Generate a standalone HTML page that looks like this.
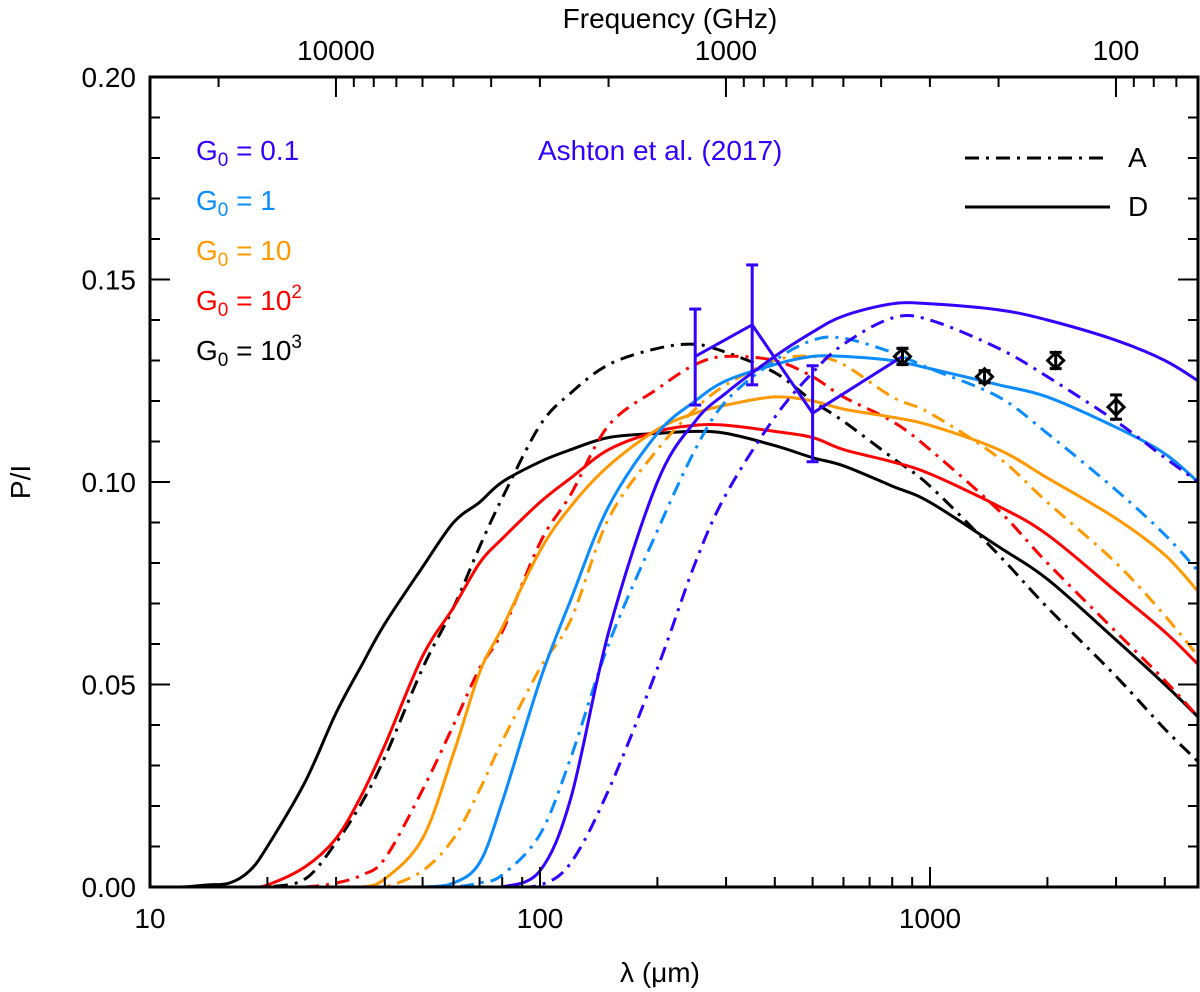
<!DOCTYPE html>
<html><head><meta charset="utf-8"><style>
body{margin:0;background:#fff;}
svg{display:block;font-family:"Liberation Sans",sans-serif;}
</style></head><body>
<svg id="chart" width="1200" height="992"></svg>
<script>
const lambdaGrid=[10,12,14,16,18,20,25,30,35,40,50,60,70,80,100,120,150,200,250,300,400,500,600,800,1000,1500,2000,3000,4000,4866];
const blackD=[0,0,0.0005,0.001,0.004,0.010,0.026,0.043,0.055,0.065,0.079,0.090,0.095,0.100,0.105,0.108,0.111,0.112,0.1125,0.112,0.109,0.106,0.104,0.099,0.095,0.084,0.076,0.061,0.050,0.042];
const blackA=[0,0,0,0,0,0,0.002,0.011,0.021,0.032,0.054,0.069,0.084,0.096,0.114,0.122,0.129,0.133,0.134,0.132,0.127,0.120,0.115,0.106,0.099,0.082,0.069,0.052,0.039,0.031];
const redD=[0,0,0,0,0,0.0005,0.005,0.012,0.023,0.035,0.057,0.069,0.080,0.086,0.095,0.101,0.108,0.1125,0.114,0.114,0.1125,0.111,0.108,0.105,0.102,0.094,0.087,0.073,0.063,0.055];
const redA=[0,0,0,0,0,0,0,0.001,0.003,0.007,0.024,0.040,0.054,0.063,0.085,0.097,0.114,0.123,0.129,0.131,0.130,0.126,0.121,0.115,0.108,0.093,0.080,0.063,0.051,0.042];
const orangeD=[0,0,0,0,0,0,0,0,0,0.002,0.012,0.033,0.053,0.064,0.083,0.094,0.104,0.113,0.117,0.119,0.121,0.120,0.118,0.116,0.114,0.108,0.101,0.091,0.082,0.073];
const orangeA=[0,0,0,0,0,0,0,0,0,0,0.004,0.012,0.024,0.036,0.054,0.066,0.091,0.108,0.118,0.124,0.130,0.131,0.129,0.121,0.117,0.106,0.095,0.080,0.067,0.057];
const lblueD=[0,0,0,0,0,0,0,0,0,0,0,0.001,0.006,0.021,0.051,0.071,0.094,0.112,0.120,0.125,0.129,0.131,0.131,0.130,0.128,0.124,0.121,0.1135,0.107,0.100];
const lblueA=[0,0,0,0,0,0,0,0,0,0,0,0,0.001,0.003,0.013,0.032,0.060,0.088,0.108,0.120,0.130,0.135,0.1355,0.132,0.128,0.121,0.112,0.098,0.087,0.078];
const blueD=[0,0,0,0,0,0,0,0,0,0,0,0,0,0,0.004,0.022,0.063,0.100,0.115,0.122,0.131,0.137,0.141,0.144,0.144,0.1425,0.140,0.135,0.130,0.125];
const blueA=[0,0,0,0,0,0,0,0,0,0,0,0,0,0,0.0005,0.006,0.024,0.054,0.080,0.097,0.116,0.127,0.134,0.1405,0.140,0.133,0.126,0.115,0.106,0.100];
const ashtonLambda=[250,350,500,850];
const ashtonValue=[0.131,0.1388,0.117,0.131];
const ashtonLow=[0.119,0.124,0.105,0.129];
const ashtonHigh=[0.1427,0.1536,0.1287,0.133];
const planckLambda=[850,1380,2100,3000];
const planckValue=[0.131,0.126,0.130,0.1185];
const planckErr=[0.002,0.0015,0.002,0.003];
const yTicks=[0,0.05,0.10,0.15,0.20];
const yTickLabels=["0.00","0.05","0.10","0.15","0.20"];
const xTicks=[10,100,1000];
const freqTicks=[10000,1000,100];

const L=150,R=1198,T=77,B=887;
const x=l=>L+390*Math.log10(l/10);
const y=v=>B-(v/0.2)*(B-T);
const xf=f=>x(299792.458/f);
const svg=document.getElementById('chart');
const NS='http://www.w3.org/2000/svg';
function mk(t,a,p){const e=document.createElementNS(NS,t);for(const k in a)e.setAttribute(k,a[k]);(p||svg).appendChild(e);return e;}
function smooth(pts){
  let d='M'+pts[0][0].toFixed(1)+' '+pts[0][1].toFixed(1);
  for(let i=0;i<pts.length-1;i++){
    const p0=pts[i-1]||pts[i],p1=pts[i],p2=pts[i+1],p3=pts[i+2]||p2;
    const c1=[p1[0]+(p2[0]-p0[0])/6,p1[1]+(p2[1]-p0[1])/6];
    const c2=[p2[0]-(p3[0]-p1[0])/6,p2[1]-(p3[1]-p1[1])/6];
    d+=`C${c1[0].toFixed(1)} ${c1[1].toFixed(1)} ${c2[0].toFixed(1)} ${c2[1].toFixed(1)} ${p2[0].toFixed(1)} ${p2[1].toFixed(1)}`;
  }
  return d;
}

const clip=mk('clipPath',{id:'pc'});mk('rect',{x:L,y:T,width:R-L,height:B-T},clip);
const series=[[blackD,'#000','none'],[blackA,'#000','14 7 3 7'],[redD,'#ff0000','none'],[redA,'#ff0000','14 7 3 7'],[orangeD,'#ff9900','none'],[orangeA,'#ff9900','14 7 3 7'],[lblueD,'#0a8cff','none'],[lblueA,'#0a8cff','14 7 3 7'],[blueD,'#3300ff','none'],[blueA,'#3300ff','14 7 3 7']];
const names=['g1000-d','g1000-a','g100-d','g100-a','g10-d','g10-a','g1-d','g1-a','g01-d','g01-a'];
series.forEach((s,i)=>{
  const pts=s[0].map((v,j)=>[x(lambdaGrid[j]),y(v)]);
  const p=mk('path',{d:smooth(pts),fill:'none',stroke:s[1],'stroke-width':3,'stroke-dasharray':s[2],'clip-path':'url(#pc)'});
  
  
});
const ad=ashtonLambda.map((l,i)=>(i?'L':'M')+x(l)+' '+y(ashtonValue[i])).join(' ');
const al=mk('path',{d:ad,fill:'none',stroke:'#3300ff','stroke-width':3});


ashtonLambda.forEach((l,i)=>{
  const g=mk('g',{stroke:'#3300ff','stroke-width':3});
  
  
  const cx=x(l);
  mk('line',{x1:cx,x2:cx,y1:y(ashtonLow[i]),y2:y(ashtonHigh[i])},g);
  mk('line',{x1:cx-6,x2:cx+6,y1:y(ashtonLow[i]),y2:y(ashtonLow[i])},g);
  mk('line',{x1:cx-6,x2:cx+6,y1:y(ashtonHigh[i]),y2:y(ashtonHigh[i])},g);
});
planckLambda.forEach((l,i)=>{
  const g=mk('g',{stroke:'#000','stroke-width':3,fill:'none'});
  
  
  const cx=x(l),cy=y(planckValue[i]),lo=y(planckValue[i]-planckErr[i]),hi=y(planckValue[i]+planckErr[i]);
  mk('path',{d:`M${cx-8} ${cy}L${cx} ${cy-8}L${cx+8} ${cy}L${cx} ${cy+8}Z`},g);
  mk('line',{x1:cx,x2:cx,y1:lo,y2:hi},g);
  mk('line',{x1:cx-6,x2:cx+6,y1:lo,y2:lo},g);
  mk('line',{x1:cx-6,x2:cx+6,y1:hi,y2:hi},g);
});
const fr=mk('rect',{x:L,y:T,width:R-L,height:B-T,fill:'none',stroke:'#000','stroke-width':3});


const ax=mk('g',{stroke:'#000','stroke-width':2});
for(let k=0;k<=20;k++){const v=k*0.01,yy=y(v),len=k%5?10:20;
  mk('line',{x1:L,x2:L+len,y1:yy,y2:yy},ax);mk('line',{x1:R,x2:R-len,y1:yy,y2:yy},ax);}
yTicks.forEach((v,i)=>{const t=mk('text',{x:L-14,y:y(v)+10,'text-anchor':'end','font-size':28});t.textContent=yTickLabels[i];
  
  });
for(let d=10;d<=1000;d*=10)for(let m=1;m<10;m++){const l=d*m;if(l>4866)continue;const xx=x(l),len=m==1?20:10;mk('line',{x1:xx,x2:xx,y1:B,y2:B-len},ax);}
xTicks.forEach(l=>{const t=mk('text',{x:x(l),y:B+41,'text-anchor':'middle','font-size':28});t.textContent=String(l);
  
  });
for(let d=10000;d>=10;d/=10)for(let m=1;m<10;m++){const f=d*m;const xx=xf(f);if(xx<L||xx>R)continue;const len=m==1?20:10;mk('line',{x1:xx,x2:xx,y1:T,y2:T+len},ax);}
freqTicks.forEach(f=>{const t=mk('text',{x:xf(f),y:T-17,'text-anchor':'middle','font-size':28});t.textContent=String(f);
  
  });
</script>
<svg style="position:absolute;left:0;top:0" width="1200" height="992">
<g font-family="Liberation Sans, sans-serif" font-size="28">
<text x="670" y="28" text-anchor="middle">Frequency (GHz)</text>
<text x="660" y="982" text-anchor="middle">λ (μm)</text>
<text transform="translate(30,482) rotate(-90)" text-anchor="middle">P/I</text>
<text x="196" y="160" fill="#3300ff">G<tspan font-size="19" dy="6">0</tspan><tspan dy="-6"> = 0.1</tspan></text>
<text x="196" y="210" fill="#0a8cff">G<tspan font-size="19" dy="6">0</tspan><tspan dy="-6"> = 1</tspan></text>
<text x="196" y="260" fill="#ff9900">G<tspan font-size="19" dy="6">0</tspan><tspan dy="-6"> = 10</tspan></text>
<text x="196" y="310" fill="#ff0000">G<tspan font-size="19" dy="6">0</tspan><tspan dy="-6"> = 10</tspan><tspan font-size="19" dy="-12">2</tspan></text>
<text x="196" y="360" fill="#000">G<tspan font-size="19" dy="6">0</tspan><tspan dy="-6"> = 10</tspan><tspan font-size="19" dy="-12">3</tspan></text>
<text x="538" y="160" fill="#3300ff">Ashton et al. (2017)</text>
<text x="1128" y="167">A</text>
<text x="1128" y="216">D</text>
</g>
<line x1="965" x2="1110" y1="158" y2="158" stroke="#000" stroke-width="3" stroke-dasharray="14 7 3 7"/>
<line x1="965" x2="1110" y1="207" y2="207" stroke="#000" stroke-width="3"/>
</svg>
</body></html>
